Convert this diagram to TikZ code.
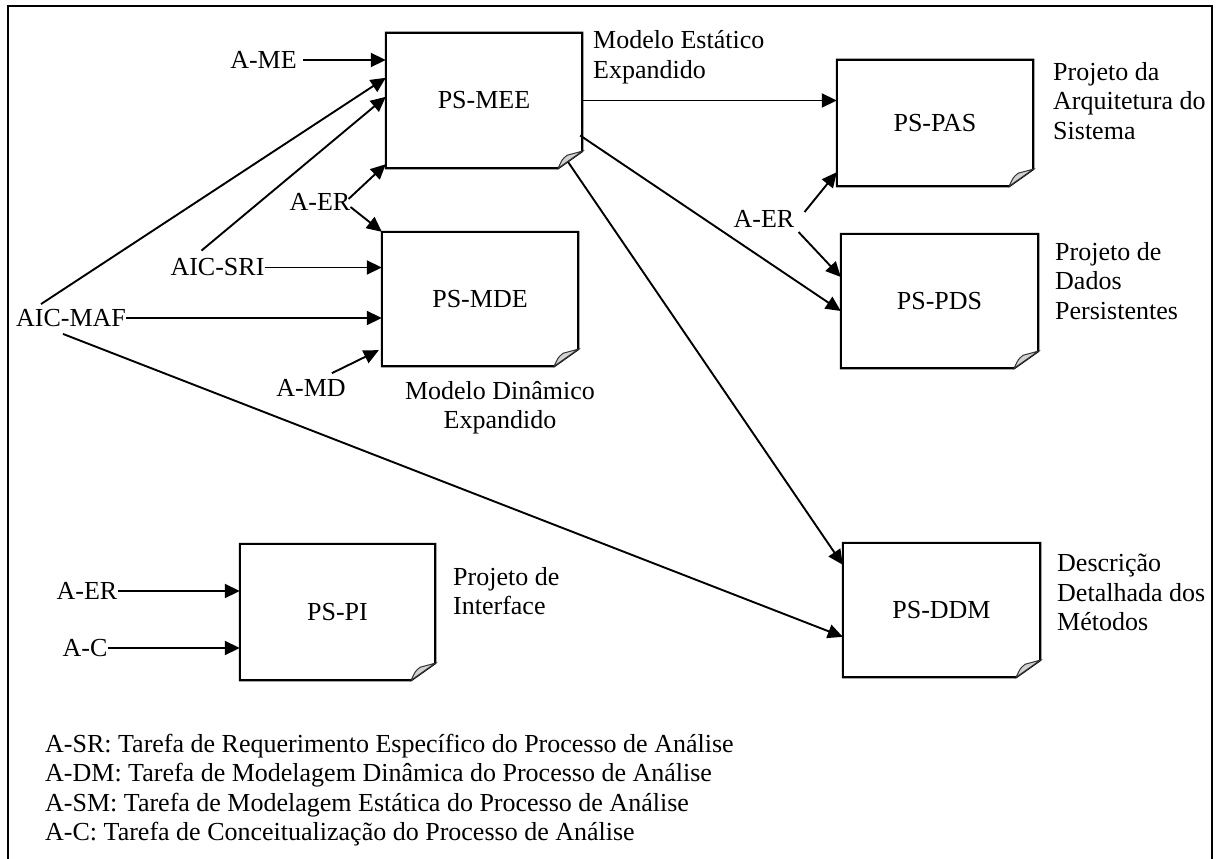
\documentclass[tikz,border=0pt]{standalone}
\usepackage{fontspec}
\setmainfont{Liberation Serif}
\usetikzlibrary{arrows.meta,calc}

% outline of a document sheet with a curled lower right corner
\newcommand\docoutline[1]{%
  \draw[boxline] (#1.north west) -- (#1.north east) -- ($(#1.south east)+(0,-17)$)
    -- ($(#1.south east)+(-24,0)$) -- (#1.south west) -- cycle;
  \filldraw[curl] ($(#1.south east)+(-24,0)$) .. controls ($(#1.south east)+(-20,-9)$) ..
    ($(#1.south east)+(-15,-13)$) -- ($(#1.south east)+(0,-17)$) -- cycle;
}

\begin{document}
\begin{tikzpicture}[x=1pt,y=-1pt,
  font=\fontsize{26}{29.5}\selectfont,
  frameline/.style={line width=2pt},
  boxline/.style={line width=2.1pt, line join=miter},
  curl/.style={line width=1pt, fill=gray!35, draw=black!80},
  docbox/.style={draw=none, inner sep=0pt},
  src/.style={inner sep=0pt},
  lbl/.style={inner sep=0pt, align=left},
  arr/.style={line width=1.9pt, -{Triangle[length=15pt,width=14pt]}},
  keytext/.style={inner sep=0pt, align=left}]

\useasboundingbox (0,0) rectangle (1221,859);

% outer frame, open at the bottom
\draw[frameline] (8,880) -- (8,6) -- (1212,6) -- (1212,880);

% work products
\node[docbox, minimum width=196pt, minimum height=135pt] (mee) at (484,100.5) {PS-MEE};
\node[docbox, minimum width=196pt, minimum height=126pt] (pas) at (935,123) {PS-PAS};
\node[docbox, minimum width=197pt, minimum height=134pt] (pds) at (939.5,301) {PS-PDS};
\node[docbox, minimum width=196pt, minimum height=134pt] (mde) at (480,299) {PS-MDE};
\node[docbox, minimum width=195pt, minimum height=136pt] (pi)  at (337.5,612) {PS-PI};
\node[docbox, minimum width=197pt, minimum height=134pt] (ddm) at (941.5,610) {PS-DDM};
\docoutline{mee}
\docoutline{pas}
\docoutline{pds}
\docoutline{mde}
\docoutline{pi}
\docoutline{ddm}

% captions of the work products
\node[lbl, anchor=north west] (meelbl) at (593,30.5) {Modelo Estático\\Expandido};
\node[lbl, anchor=north west] (paslbl) at (1053,62) {Projeto da\\Arquitetura do\\Sistema};
\node[lbl, anchor=north west] (pdslbl) at (1055,242) {Projeto de\\Dados\\Persistentes};
\node[lbl, anchor=north, align=center] (mdelbl) at (500,381) {Modelo Dinâmico\\Expandido};
\node[lbl, anchor=north west] (pilbl) at (453,567) {Projeto de\\Interface};
\node[lbl, anchor=north west] (ddmlbl) at (1057,554) {Descrição\\Detalhada dos\\Métodos};

% inputs
\node[src] (ame)  at (263.5,60) {A-ME};
\node[src] (maf)  at (71,318) {AIC-MAF};
\node[src] (sri)  at (217.5,267.5) {AIC-SRI};
\node[src] (aer1) at (320,202) {A-ER};
\node[src] (amd)  at (311,388) {A-MD};
\node[src] (aer2) at (764,219) {A-ER};
\node[src] (aer3) at (87,591) {A-ER};
\node[src] (ac)   at (85,648) {A-C};

% connectors
\draw[arr] (ame.east) ++(6,0) -- (ame.east -| mee.west);
\draw[arr] ($(maf.north)+(-30,-5)$) -- ($(mee.north west)+(0,45)$);
\draw[arr] ($(sri.north)+(-16,-8)$) -- ($(mee.north west)+(0,64)$);
\draw[arr] ($(aer1.east)+(-2,-3)$) -- ($(mee.south west)+(0,-4)$);
\draw[arr] ($(aer1.east)+(0,5)$) -- (mde.north west);
\draw[arr] (sri.east) -- (sri.east -| mde.west);
\draw[arr] (maf.east) -- (maf.east -| mde.west);
\draw[arr] ($(amd.north east)+(-14,-6)$) -- ($(mde.south west)+(-3,-16)$);
\draw[arr] ($(maf.south)+(-8,7)$) -- ($(ddm.north west)+(0,94)$);
\draw[arr] (mee.east) -- (mee.east -| pas.west);
\draw[arr] ($(mee.east)+(-2,35)$) -- ($(pds.west)+(0,10)$);
\draw[arr] ($(mee.south east)+(-14,-6)$) -- ($(ddm.north west)+(0,22)$);
\draw[arr] ($(aer2.east)+(10,-7)$) -- ($(pas.south west)+(0,-14)$);
\draw[arr] ($(aer2.east)+(4,13)$) -- ($(pds.west)+(0,-24)$);
\draw[arr] (aer3.east) -- (aer3.east -| pi.west);
\draw[arr] (ac.east) -- (ac.east -| pi.west);

% key
\node[keytext, anchor=north west] (key) at (45,733.5) {A-SR: Tarefa de Requerimento Específico do Processo de Análise\\
A-DM: Tarefa de Modelagem Dinâmica do Processo de Análise\\
A-SM: Tarefa de Modelagem Estática do Processo de Análise\\
A-C: Tarefa de Conceitualização do Processo de Análise};

\end{tikzpicture}
\end{document}
